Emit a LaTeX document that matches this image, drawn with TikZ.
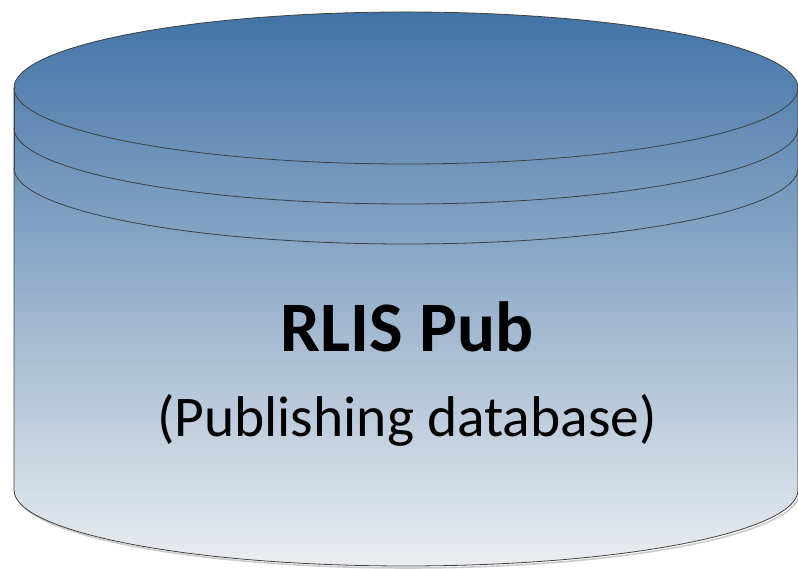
\documentclass[tikz,border=0pt]{standalone}
\usepackage{fontspec}
\setmainfont{Carlito}
\usetikzlibrary{positioning}
\definecolor{DbTop}{HTML}{4173A7}
\definecolor{DbBottom}{HTML}{EBEDF0}
\definecolor{DbEdge}{HTML}{404040}
\tikzset{
  % cylinder body, faded from top to bottom
  dbbody/.style={draw=DbEdge,line width=.8pt,top color=DbTop,bottom color=DbBottom},
  % rim lines on the lid
  dbring/.style={draw=DbEdge,line width=.8pt},
  dbshadow/.style={draw=black!20,line width=1.6pt},
  dbtitle/.style={font=\fontsize{71}{78}\selectfont\bfseries,anchor=base,inner sep=0pt},
  dbsub/.style={font=\fontsize{57.5}{64}\selectfont,anchor=base,inner sep=0pt},
}
\begin{document}
\begin{tikzpicture}[x=1pt,y=1pt]
  \useasboundingbox (0,0) rectangle (798,569);
  % soft shadow under the base
  \draw[dbshadow] (16,77) arc[start angle=180,end angle=360,x radius=392,y radius=76];
  % body
  \path[dbbody] (14,481) arc[start angle=180,end angle=0,x radius=392,y radius=76]
    -- (798,79) arc[start angle=0,end angle=-180,x radius=392,y radius=76] -- cycle;
  % lid and rims
  \draw[dbring] (14,481) arc[start angle=180,end angle=360,x radius=392,y radius=76];
  \draw[dbring] (14,441) arc[start angle=180,end angle=360,x radius=392,y radius=76];
  \draw[dbring] (14,401) arc[start angle=180,end angle=360,x radius=392,y radius=76];
  \draw[dbring] (14,401) -- (14,481);
  % labels
  \node[dbtitle] (title) at (407,217) {RLIS Pub};
  \node[dbsub] (subtitle) at ([yshift=-85pt]title.base) {(Publishing database)};
\end{tikzpicture}
\end{document}
